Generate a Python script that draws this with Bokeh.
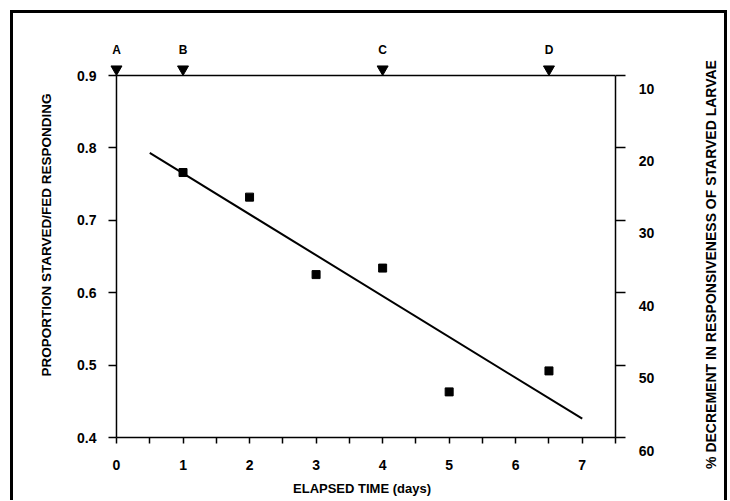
import math
from bokeh.plotting import figure
from bokeh.layouts import row
from bokeh.models import Range1d, LinearAxis, FixedTicker
from bokeh.core.properties import value
from bokeh.embed import file_html
from bokeh.resources import INLINE

# ---------------- data ----------------
days = [1, 2, 3, 4, 5, 6.5]
proportion = [0.766, 0.732, 0.625, 0.634, 0.463, 0.492]

fit_days = [0.5, 7.0]
fit_proportion = [0.793, 0.426]

event_days = [0, 1, 4, 6.5]
event_labels = ["A", "B", "C", "D"]

x_ticks = [0, 1, 2, 3, 4, 5, 6, 7]
x_minor_ticks = [0.5, 1.5, 2.5, 3.5, 4.5, 5.5, 6.5, 7.5]
y_ticks = [0.4, 0.5, 0.6, 0.7, 0.8, 0.9]
pct_ticks = [10, 20, 30, 40, 50, 60]
pct_labels = ["10", "20", "30", "40", "50", "60"]

# axis extents (data units)
X_START, X_END = 0, 7.5
Y_BOTTOM, Y_TOP = 0.4, 0.9
PCT_BOTTOM, PCT_TOP = 60, 10

# ---------------- layout ----------------
FONT = "Liberation Sans"
W_MAIN, W_SIDE, H = 630, 100, 500
FRAME_LEFT, FRAME_TOP, FRAME_BOTTOM = 108, 32, 437
AXIS_RIGHT = 615

# plotting window: a little room left of x=0 and above y=0.9 so that the
# event markers A-D fit inside the plotting area
XR_START = -0.12
YR_END = 0.9594
PCT_R_END = 100 * (1 - YR_END)
PX_PER_PCT = (FRAME_BOTTOM - FRAME_TOP) / (PCT_BOTTOM - PCT_R_END)

p = figure(width=W_MAIN, height=H, output_backend="svg", toolbar_location=None,
           x_range=Range1d(XR_START, X_END), y_range=Range1d(Y_BOTTOM, YR_END),
           min_border_left=FRAME_LEFT, min_border_right=W_MAIN - AXIS_RIGHT,
           min_border_top=FRAME_TOP, min_border_bottom=H - FRAME_BOTTOM,
           x_axis_label="ELAPSED TIME (days)",
           y_axis_label="PROPORTION STARVED/FED RESPONDING")
p.grid.visible = False
p.outline_line_color = None
p.background_fill_color = "white"
p.border_fill_color = None
# thick frame around the whole picture (left and top sides here)
p.styles = {
    "background-image": "linear-gradient(#000,#000), linear-gradient(#000,#000)",
    "background-size": "3px 100%, 620px 3px",
    "background-position": "10px 10px, 10px 10px",
    "background-repeat": "no-repeat",
}

p.extra_y_ranges = {"pct": Range1d(start=PCT_BOTTOM, end=PCT_R_END)}

# x axis
xa = p.xaxis[0]
xa.bounds = (X_START, X_END)
xa.ticker = FixedTicker(ticks=x_ticks, minor_ticks=x_minor_ticks)
xa.axis_line_width = 1.5
xa.axis_line_color = "black"
xa.major_tick_in = 0
xa.major_tick_out = 6
xa.minor_tick_in = 0
xa.minor_tick_out = 6
xa.major_tick_line_width = 1.5
xa.minor_tick_line_width = 1.5
xa.major_label_standoff = 16
xa.major_label_text_font = FONT
xa.major_label_text_font_style = "bold"
xa.major_label_text_font_size = "14px"
xa.major_label_text_color = "black"
xa.axis_label_standoff = 8
xa.axis_label_text_font = FONT
xa.axis_label_text_font_style = "bold"
xa.axis_label_text_font_size = "13px"
xa.axis_label_text_color = "black"

# left axis (proportion); its line is drawn at x = 0 below
ya = p.yaxis[0]
ya.bounds = (Y_BOTTOM, Y_TOP)
ya.ticker = FixedTicker(ticks=y_ticks)
ya.axis_line_color = None
ya.major_tick_in = 8
ya.major_tick_out = 0
ya.major_tick_line_width = 1.5
ya.minor_tick_out = 0
ya.minor_tick_in = 0
ya.major_label_standoff = 12
ya.major_label_text_font = FONT
ya.major_label_text_font_style = "bold"
ya.major_label_text_font_size = "14px"
ya.major_label_text_color = "black"
ya.axis_label_standoff = 20
ya.axis_label_text_font = FONT
ya.axis_label_text_font_style = "bold"
ya.axis_label_text_font_size = "13.5px"
ya.axis_label_text_color = "black"

# right axis (% decrement): line and ticks; its labels are in the side panel
ra = LinearAxis(y_range_name="pct", ticker=FixedTicker(ticks=pct_ticks),
                bounds=(PCT_TOP, PCT_BOTTOM),
                major_label_overrides={t: "" for t in pct_ticks})
ra.axis_line_width = 1.5
ra.axis_line_color = "black"
ra.major_tick_in = 0
ra.major_tick_out = 10
ra.major_tick_line_width = 1.5
ra.minor_tick_in = 0
ra.minor_tick_out = 0
ra.major_label_standoff = 0
p.add_layout(ra, "right")

# left edge and top edge of the axes box
p.segment(x0=[X_START, X_START], y0=[Y_BOTTOM, Y_TOP],
          x1=[X_START, X_END], y1=[Y_TOP, Y_TOP],
          line_color="black", line_width=1.5)

# data
p.line(fit_days, fit_proportion, line_color="black", line_width=2)
p.scatter(days, proportion, marker="square", size=8, color="black")

# event markers A-D on the top edge
p.scatter(event_days, [Y_TOP + 0.0088] * len(event_days),
          marker="inverted_triangle", size=11, color="black")
p.text(x=event_days, y=[Y_TOP] * len(event_days), text=event_labels,
       y_offset=-26, text_align="center", text_baseline="alphabetic",
       text_font=value(FONT), text_font_style="bold",
       text_font_size="12px", text_color="black")

# ---------------- side panel: right-hand tick labels and title ----------------
ps = figure(width=W_SIDE, height=H, output_backend="svg", toolbar_location=None,
            x_axis_location=None, y_axis_location=None,
            min_border_left=0, min_border_right=0,
            min_border_top=0, min_border_bottom=0)

# let the side panel use its full height (no frame alignment with the main plot)
can_unalign = "frame_align" in ps.properties()
if can_unalign:
    p.frame_align = False
    ps.frame_align = False
    # same % scale as the main plot, spread over the full panel height
    side_bottom = PCT_BOTTOM + (H - FRAME_BOTTOM) / PX_PER_PCT
    side_top = PCT_BOTTOM - FRAME_BOTTOM / PX_PER_PCT
else:
    side_bottom, side_top = PCT_BOTTOM, PCT_R_END
ps.x_range = Range1d(0, 1)
ps.y_range = Range1d(side_bottom, side_top)

ps.grid.visible = False
ps.outline_line_color = None
ps.background_fill_color = None
ps.border_fill_color = None
ps.styles = {
    "background-image": "linear-gradient(#000,#000), linear-gradient(#000,#000)",
    "background-size": "97px 3px, 3px 100%",
    "background-position": "0px 10px, 94px 10px",
    "background-repeat": "no-repeat",
}

# tick labels sit slightly below their ticks, as in the original
ps.text(x=[0] * len(pct_ticks), y=pct_ticks, text=pct_labels,
        x_offset=16, y_offset=13,
        text_align="center", text_baseline="middle",
        text_font=value(FONT), text_font_style="bold",
        text_font_size="14px", text_color="black")

# title reading from bottom to top
ps.text(x=[0], y=[(PCT_TOP + PCT_BOTTOM) / 2],
        text=["% DECREMENT IN RESPONSIVENESS OF STARVED LARVAE"],
        x_offset=80, y_offset=8, angle=math.pi / 2,
        text_align="center", text_baseline="middle",
        text_font=value(FONT), text_font_style="bold",
        text_font_size="14px", text_color="black")

open("out.html", "w").write(file_html(row(p, ps), INLINE))
